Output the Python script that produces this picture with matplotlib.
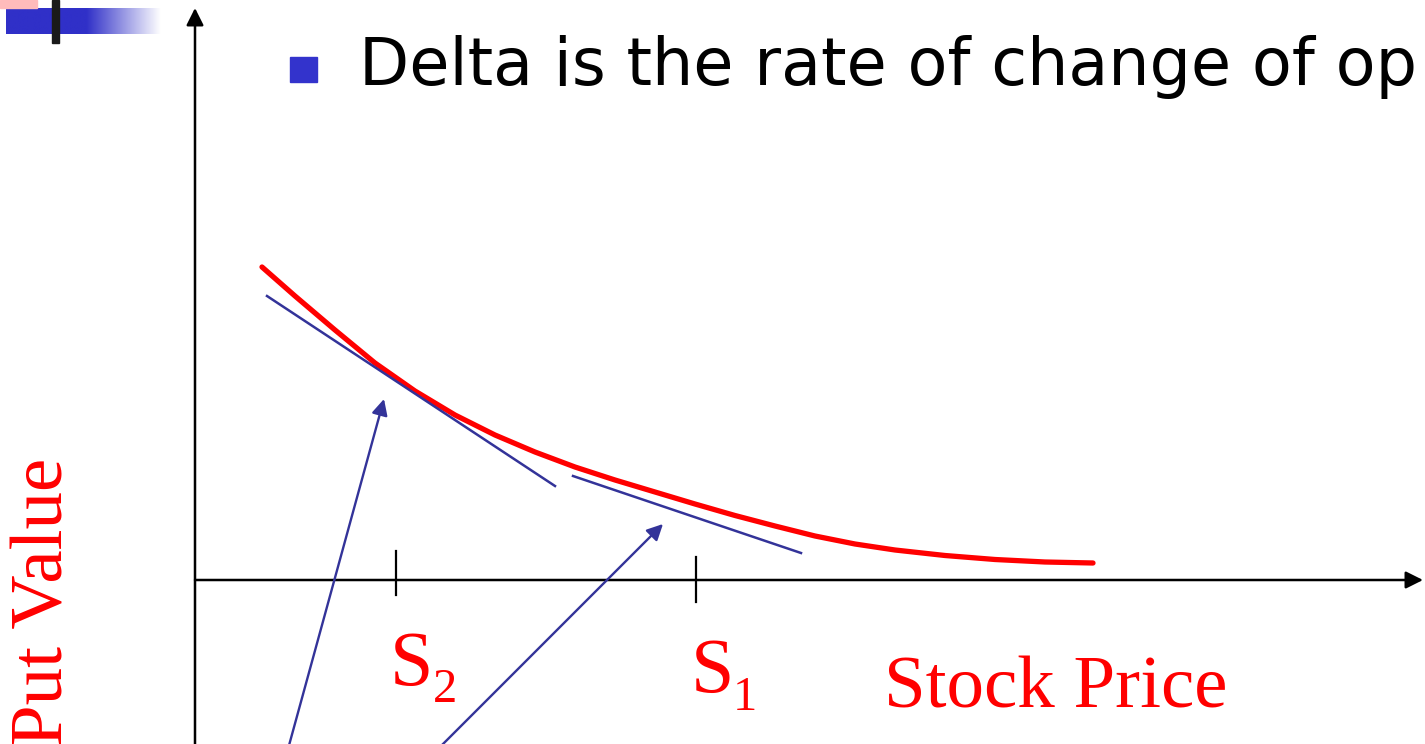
import numpy as np
import matplotlib.pyplot as plt
from matplotlib.patches import Rectangle

# put value curve (stock price, put value)
price = [0.67, 1.00, 1.40, 1.80, 2.20, 2.60, 3.00, 3.40, 3.80, 4.20, 4.60, 5.00,
         5.40, 5.80, 6.20, 6.60, 7.00, 7.50, 8.00, 8.50, 8.98]
put_value = [3.13, 2.84, 2.50, 2.17, 1.89, 1.65, 1.45, 1.28, 1.13, 1.00, 0.88, 0.76,
             0.645, 0.54, 0.44, 0.36, 0.30, 0.245, 0.205, 0.18, 0.17]

# tangents at S2 and S1
tan2_x = [0.72, 3.60]
tan2_y = [2.84, 0.94]
tan1_x = [3.78, 6.06]
tan1_y = [1.04, 0.27]

# S ticks on the price axis
s_pos = [2.01, 5.01]
s_top = [0.29, 0.23]
s_bot = [-0.15, -0.22]
s_names = ["S", "S"]
s_subs = ["2", "1"]

# pointer arrows (tail -> tip)
arrow_tail = [(0.90, -1.80), (2.32, -1.80)]
arrow_tip = [(1.89, 1.81), (4.68, 0.56)]

title = "Delta is the rate of change of op"

W, H = 1425, 744
RED = "#ff0000"
NAVY = "#333399"
BLUE = "#3333cc"

fig = plt.figure(figsize=(W / 100, H / 100), dpi=100)
ax = fig.add_axes([0, 0, 1, 1])
ax.set_xlim(-1.95, 12.30)
ax.set_ylim(-1.64, 5.80)
ax.axis("off")


def fx(px):
    return px / W


def fy(py):
    return 1 - py / H


# slide decoration in the top-left corner
bar = fig.add_axes([fx(6), fy(34), fx(155), 26 / H])
grad = np.ones((1, 300, 3))
t = np.clip((np.linspace(0, 1, 300) - 0.52) / 0.48, 0, 1)
base = np.array([0x30, 0x30, 0xc8]) / 255
for k in range(3):
    grad[0, :, k] = base[k] + (1 - base[k]) * t
bar.imshow(grad, aspect="auto", extent=[0, 1, 0, 1])
bar.axis("off")
fig.patches.append(Rectangle((0, fy(8)), fx(37), 8 / H, transform=fig.transFigure,
                             color="#ffbbbb", zorder=5))
fig.patches.append(Rectangle((fx(52), fy(43)), fx(7), 43 / H, transform=fig.transFigure,
                             color="#1a1a1a", zorder=6))

# bullet + title
fig.patches.append(Rectangle((fx(290), fy(82)), fx(27), 25 / H, transform=fig.transFigure,
                             color=BLUE))
fig.text(fx(359), fy(85), title, fontsize=47, family="DejaVu Sans", color="black",
         ha="left", va="baseline")

# axes with arrow heads
ax.annotate("", xy=(12.28, 0), xytext=(0, 0),
            arrowprops=dict(arrowstyle="-|>", color="black", lw=1.8,
                            mutation_scale=26, shrinkA=0, shrinkB=0))
ax.annotate("", xy=(0, 5.72), xytext=(0, -1.80),
            arrowprops=dict(arrowstyle="-|>", color="black", lw=1.8,
                            mutation_scale=26, shrinkA=0, shrinkB=0))

# put curve and tangents
ax.plot(price, put_value, color=RED, lw=3.8, solid_capstyle="round",
        solid_joinstyle="round")
ax.plot(tan2_x, tan2_y, color=NAVY, lw=1.8)
ax.plot(tan1_x, tan1_y, color=NAVY, lw=1.8)

# ticks and labels
serif = "Liberation Serif"
for x, top, bot in zip(s_pos, s_top, s_bot):
    ax.plot([x, x], [bot, top], color="black", lw=1.6)
ax.text(1.95, -1.05, s_names[0], fontsize=56, family=serif, color=RED, va="baseline")
ax.text(2.38, -1.22, s_subs[0], fontsize=35, family=serif, color=RED, va="baseline")
ax.text(4.96, -1.12, s_names[1], fontsize=56, family=serif, color=RED, va="baseline")
ax.text(5.38, -1.30, s_subs[1], fontsize=35, family=serif, color=RED, va="baseline")

ax.text(6.89, -1.28, "Stock Price", fontsize=54, family=serif, color=RED, va="baseline")
ax.text(-1.32, -1.66, "Put Value", fontsize=54, family=serif, color=RED,
        rotation=90, rotation_mode="anchor", ha="left", va="baseline")

# pointer arrows
for tail, tip in zip(arrow_tail, arrow_tip):
    ax.annotate("", xy=tip, xytext=tail,
                arrowprops=dict(arrowstyle="-|>", color=NAVY, lw=1.7,
                                mutation_scale=24, shrinkA=0, shrinkB=0))

fig.savefig("out.png", dpi=100)
